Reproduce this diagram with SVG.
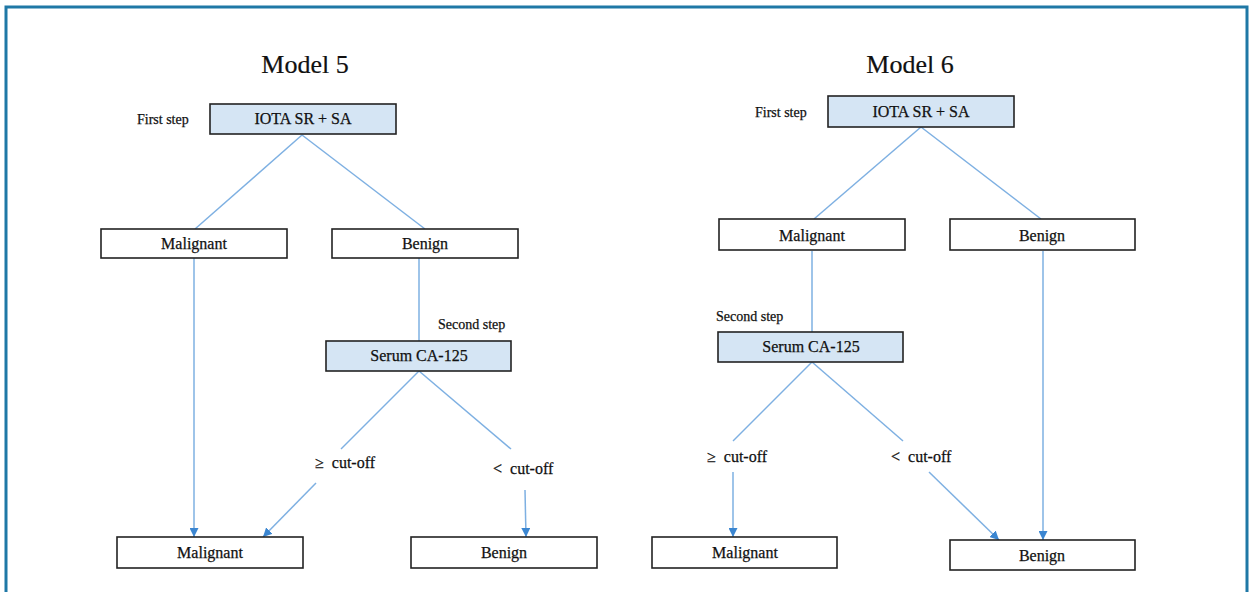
<svg xmlns="http://www.w3.org/2000/svg" width="1250" height="592" viewBox="0 0 1250 592">
<style>
.box{fill:#fff;stroke:#222;stroke-width:1.6}
.hl{fill:#d5e5f4}
text{font-family:"Liberation Serif","Times New Roman",serif;fill:#111;stroke:#111;stroke-width:0.25}
.lbl{font-size:16px;text-anchor:middle}
.title{font-size:26px;text-anchor:middle;stroke-width:0.2}
.step{font-size:14px}
.cut{font-size:16px}
.ln{stroke:#7eb0e2;stroke-width:1.5;fill:none}
</style>
<defs>
<marker id="ah" viewBox="0 0 10 10" refX="10" refY="5" markerWidth="9" markerHeight="9" markerUnits="userSpaceOnUse" orient="auto">
<path d="M0,0 L10,5 L0,10 z" fill="#3b86d1"/>
</marker>
</defs>
<rect x="0" y="0" width="1250" height="592" fill="#fff"/>
<path d="M6,600 L6,7 L1247,7 L1247,600" fill="none" stroke="#1f78a6" stroke-width="3"/>

<g id="connectors">
<line class="ln" x1="302" y1="135" x2="195" y2="229"/>
<line class="ln" x1="302" y1="135" x2="425" y2="229"/>
<line class="ln" x1="419" y1="258" x2="419" y2="341"/>
<line class="ln" x1="419" y1="371" x2="341" y2="449"/>
<line class="ln" x1="419" y1="371" x2="511" y2="449"/>
<line class="ln" x1="194" y1="258" x2="194" y2="537" marker-end="url(#ah)"/>
<line class="ln" x1="316" y1="483" x2="263" y2="537" marker-end="url(#ah)"/>
<line class="ln" x1="525" y1="490" x2="526" y2="537" marker-end="url(#ah)"/>
<line class="ln" x1="921" y1="127" x2="814" y2="219"/>
<line class="ln" x1="921" y1="127" x2="1041" y2="219"/>
<line class="ln" x1="812" y1="251" x2="812" y2="332"/>
<line class="ln" x1="812" y1="362" x2="733" y2="441"/>
<line class="ln" x1="812" y1="362" x2="903" y2="441"/>
<line class="ln" x1="733" y1="472" x2="733" y2="537" marker-end="url(#ah)"/>
<line class="ln" x1="929" y1="472" x2="999" y2="540" marker-end="url(#ah)"/>
<line class="ln" x1="1043" y1="251" x2="1043" y2="540" marker-end="url(#ah)"/>
</g>

<text class="title" x="305" y="73">Model 5</text>
<text class="title" x="910" y="73">Model 6</text>

<g id="m5-first-label"><text class="step" x="137" y="124">First step</text></g>
<g id="m5-iota"><rect class="box hl" x="210" y="104" width="186" height="30"/><text class="lbl" x="303" y="124">IOTA SR + SA</text></g>
<g id="m5-malignant1"><rect class="box" x="101" y="229" width="186" height="29"/><text class="lbl" x="194" y="249">Malignant</text></g>
<g id="m5-benign1"><rect class="box" x="332" y="229" width="186" height="29"/><text class="lbl" x="425" y="249">Benign</text></g>
<g id="m5-second-label"><text class="step" x="438" y="329">Second step</text></g>
<g id="m5-serum"><rect class="box hl" x="326" y="341" width="185" height="30"/><text class="lbl" x="419" y="361">Serum CA-125</text></g>
<g id="m5-ge"><text class="cut" x="315" y="468" xml:space="preserve">≥  cut-off</text></g>
<g id="m5-lt"><text class="cut" x="493" y="474" xml:space="preserve">&lt;  cut-off</text></g>
<g id="m5-malignant2"><rect class="box" x="117" y="537" width="186" height="31"/><text class="lbl" x="210" y="558">Malignant</text></g>
<g id="m5-benign2"><rect class="box" x="411" y="537" width="186" height="31"/><text class="lbl" x="504" y="558">Benign</text></g>

<g id="m6-first-label"><text class="step" x="755" y="117">First step</text></g>
<g id="m6-iota"><rect class="box hl" x="828" y="96" width="186" height="31"/><text class="lbl" x="921" y="117">IOTA SR + SA</text></g>
<g id="m6-malignant1"><rect class="box" x="719" y="219" width="186" height="31"/><text class="lbl" x="812" y="241">Malignant</text></g>
<g id="m6-benign1"><rect class="box" x="950" y="219" width="185" height="31"/><text class="lbl" x="1042" y="241">Benign</text></g>
<g id="m6-second-label"><text class="step" x="716" y="321">Second step</text></g>
<g id="m6-serum"><rect class="box hl" x="718" y="332" width="185" height="30"/><text class="lbl" x="811" y="352">Serum CA-125</text></g>
<g id="m6-ge"><text class="cut" x="707" y="462" xml:space="preserve">≥  cut-off</text></g>
<g id="m6-lt"><text class="cut" x="891" y="462" xml:space="preserve">&lt;  cut-off</text></g>
<g id="m6-malignant2"><rect class="box" x="652" y="537" width="185" height="31"/><text class="lbl" x="745" y="558">Malignant</text></g>
<g id="m6-benign2"><rect class="box" x="950" y="540" width="185" height="30"/><text class="lbl" x="1042" y="561">Benign</text></g>
</svg>
